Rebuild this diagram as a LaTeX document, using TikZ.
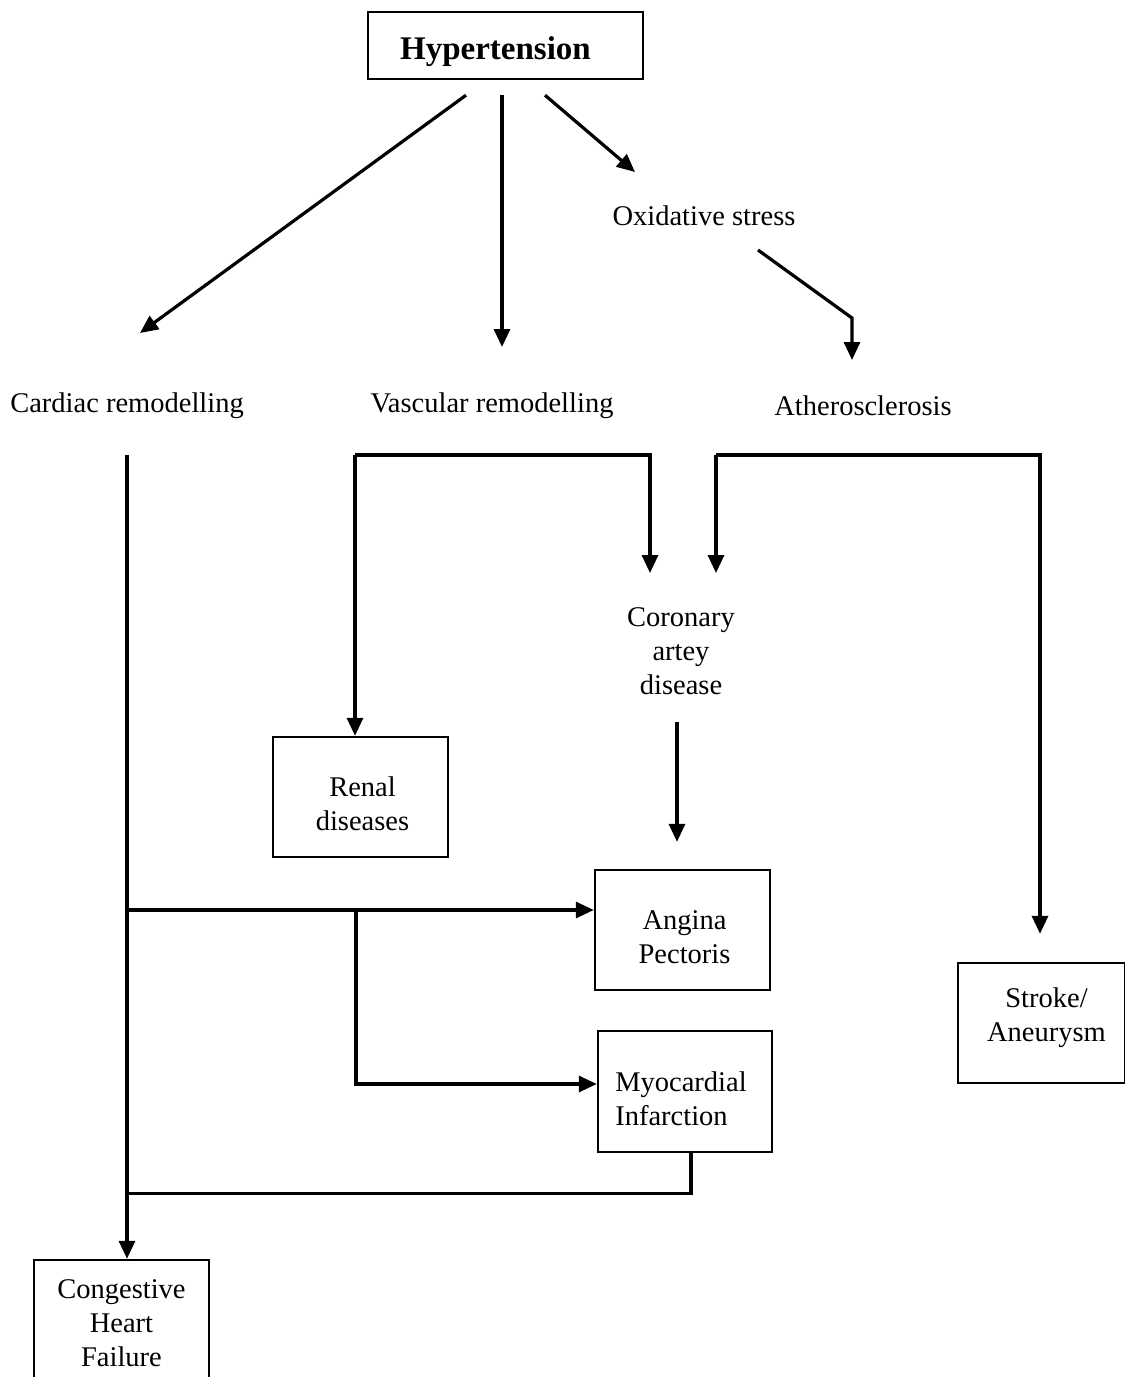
\documentclass[tikz,border=0pt]{standalone}
\usepackage{fontspec}
\setmainfont{Liberation Serif}
\usetikzlibrary{arrows.meta,calc}
\begin{document}
\begin{tikzpicture}[x=1pt,y=-1pt,
  txt/.style={font=\fontsize{28.5}{34}\selectfont, align=center, inner sep=0pt},
  box/.style={draw, line width=2.4pt, fill=white, inner sep=0pt},
  conn/.style={line width=3.2pt},
  arr/.style={conn, -{Triangle[length=18pt,width=16pt]}}]
\clip (0,0) rectangle (1125,1377);
\fill[white] (0,0) rectangle (1125,1377);
% boxes
\node[box, minimum width=275pt, minimum height=67pt] (hyp) at (505.5,45.5) {};
\node[box, minimum width=175pt, minimum height=120pt] (renal) at (360.5,797) {};
\node[box, minimum width=175pt, minimum height=120pt] (ang) at (682.5,930) {};
\node[box, minimum width=174pt, minimum height=121pt] (myo) at (685,1091.5) {};
\node[box, minimum width=167pt, minimum height=120pt] (stroke) at (1041.5,1023) {};
\node[box, minimum width=175pt, minimum height=126pt] (chf) at (121.5,1323) {};
% texts
\node[txt, font=\fontsize{33}{38}\selectfont\bfseries] (hypt) at ($(hyp.center)+(-10,6)$) {Hypertension};
\node[txt] (renalt) at ($(renal.center)+(2,7)$) {Renal\\diseases};
\node[txt] (angt) at ($(ang.center)+(2,7)$) {Angina\\Pectoris};
\node[txt, align=left] (myot) at ($(myo.center)+(-4,7)$) {Myocardial\\Infarction};
\node[txt] (strokt) at ($(stroke.center)+(5,-5)$) {Stroke/\\Aneurysm};
\node[txt] (chft) at ($(chf.center)+(0,0)$) {Congestive\\Heart\\Failure};
\node[txt] (oxi) at (704,216) {Oxidative stress};
\node[txt] (card) at (127,406) {Cardiac remodelling};
\node[txt] (vasc) at (492,406) {Vascular remodelling};
\node[txt] (ath) at (863,406) {Atherosclerosis};
\node[txt] (cad) at (681,651) {Coronary\\artey\\disease};
% connectors from Hypertension
\draw[arr] ($(hyp.south)+(-39.5,15)$) -- ($(card.center)+(13,-73)$);
\draw[arr] ($(hyp.south)+(-3.5,15)$) -- ($(vasc.center)+(10,-59)$);
\draw[arr] ($(hyp.south)+(39.5,15)$) -- ($(oxi.center)+(-69,-44)$);
% oxidative stress -> atherosclerosis
\coordinate (oxk) at ($(ath.center)+(-11,-88)$);
\draw[arr] ($(oxi.center)+(54,34)$) -- (oxk) -- ($(ath.center)+(-11,-46)$);
% vascular remodelling
\coordinate (v1) at ($(vasc.center)+(-137,49)$);
\draw[arr] (v1) -- (v1 |- renal.north);
\draw[arr] (v1) -| ($(cad.center)+(-31,-78)$);
% atherosclerosis
\coordinate (a1) at ($(ath.center)+(-147,49)$);
\draw[arr] (a1) -- ($(cad.center)+(35,-78)$);
\draw[arr] (a1) -| ($(stroke.north)+(-1.5,-28)$);
% coronary -> angina
\draw[arr] ($(cad.center)+(-4,71)$) -- ($(ang.north)+(-5.5,-27)$);
% cardiac remodelling trunk
\coordinate (c1) at ($(card.center)+(0,49)$);
\draw[arr] (c1) -- (c1 |- chf.north);
\coordinate (angin) at ($(ang.west)+(0,-20)$);
\draw[arr] (c1 |- angin) -- (angin);
\coordinate (br) at (356,910);
\coordinate (myin) at ($(myo.west)+(0,-7.5)$);
\draw[arr] (br) |- (myin);
% myocardial -> trunk
\coordinate (m1) at ($(myo.south)+(6,40)$);
\draw[conn] ($(myo.south)+(6,0)$) -- (m1) -- (c1 |- m1);
\end{tikzpicture}
\end{document}
